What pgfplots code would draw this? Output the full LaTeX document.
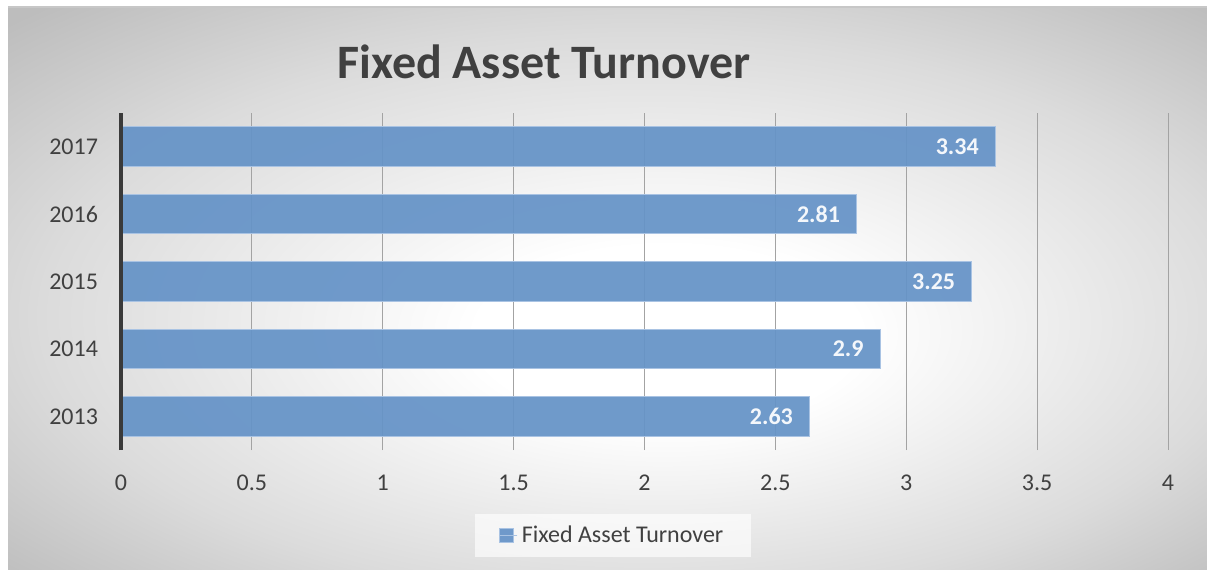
\documentclass[border=0pt]{standalone}
\usepackage{pgfplots}
\pgfplotsset{compat=1.18}
\usepackage{fontspec}
\setmainfont{Carlito}
\definecolor{barblue}{HTML}{6593C7}
\definecolor{baredge}{HTML}{A9C3E3}
\definecolor{txtgray}{HTML}{404040}
\definecolor{axisdark}{HTML}{3A3A3A}
\pgfdeclareradialshading{bgshade}{\pgfpoint{3bp}{-5bp}}{color(0bp)=(white); color(8bp)=(white); color(25bp)=(black!14); color(36bp)=(black!26); color(50bp)=(black!26)}
\begin{document}
\begin{tikzpicture}[x=0.5pt,y=0.5pt]
\useasboundingbox (0,0) rectangle (1207,569);
\fill[white] (0,0) rectangle (1207,569);
\shade[shading=bgshade] (8,0) rectangle (1207,562);
\draw[black!22, line width=0.8pt] (8,562) -- (1207,562);
\node[font=\fontsize{24}{28}\selectfont\bfseries, text=txtgray] at (544,507) {Fixed Asset Turnover};
\begin{axis}[
  at={(60.5pt,59.5pt)}, anchor=south west,
  scale only axis, width=523.5pt, height=168.5pt,
  xmin=0, xmax=4, ymin=-0.5, ymax=4.5,
  xbar, bar width=0.59,
  axis line style={draw=none},
  major tick length=0pt,
  xtick={0,0.5,1,1.5,2,2.5,3,3.5,4},
  ytick={0,1,2,3,4},
  yticklabels={2013,2014,2015,2016,2017},
  xmajorgrids, grid style={black!36, line width=0.5pt},
  /pgf/number format/assume math mode=true,
  tick label style={font=\fontsize{12}{14}\selectfont, text=txtgray},
  yticklabel style={xshift=-8pt},
  xticklabel style={yshift=-9pt},
  point meta=x,
  nodes near coords,
  every node near coord/.append style={anchor=east, xshift=-4.7pt, font=\fontsize{12}{14}\selectfont\bfseries, text=white},
  clip=false,
  legend style={at={(0.470,-0.2537)}, anchor=center, draw=none, fill=white, fill opacity=0.65, text opacity=1, inner xsep=12pt, inner ysep=4pt, font=\fontsize{12}{14}\selectfont, text=txtgray},
  legend image code/.code={\fill[barblue, draw=baredge, line width=0.4pt] (0pt,-3.5pt) rectangle (7pt,3.5pt); \path (0pt,0pt) -- (9pt,0pt);},
]
\addplot[fill=barblue, fill opacity=0.93, draw=baredge, line width=0.5pt] coordinates {(2.63,0) (2.9,1) (3.25,2) (2.81,3) (3.34,4)};
\addlegendentry{Fixed Asset Turnover}
\draw[axisdark, line width=1.7pt] (axis cs:0,-0.5) -- (axis cs:0,4.5);
\end{axis}
\end{tikzpicture}
\end{document}
